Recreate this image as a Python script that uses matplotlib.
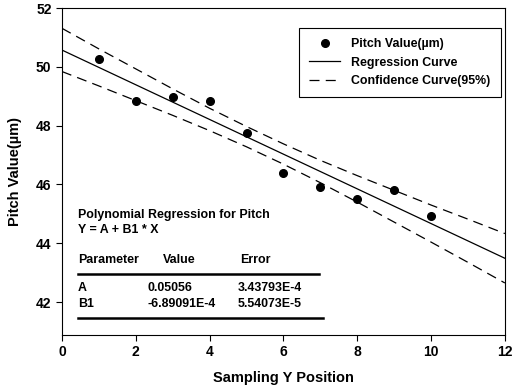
import matplotlib
matplotlib.use("Agg")
import matplotlib.pyplot as plt
from matplotlib.lines import Line2D

plt.rcParams['font.family'] = ['Liberation Sans', 'DejaVu Sans']

# Data
pos_x = [1, 2, 3, 4, 5, 6, 7, 8, 9, 10]
pitch_y = [50.25, 48.85, 48.97, 48.83, 47.76, 46.39, 45.92, 45.51, 45.81, 44.93]

curve_x = [0, 1, 2, 3, 4, 5, 6, 7, 8, 9, 10, 11, 12]
reg_y = [50.57, 49.98, 49.39, 48.80, 48.21, 47.62, 47.03, 46.44, 45.85, 45.26, 44.67, 44.08, 43.49]
upper_y = [51.31, 50.61, 49.93, 49.25, 48.59, 47.97, 47.38, 46.82, 46.30, 45.80, 45.30, 44.82, 44.33]
lower_y = [49.84, 49.35, 48.85, 48.35, 47.83, 47.28, 46.69, 46.06, 45.40, 44.72, 44.04, 43.35, 42.65]

x_ticks = [0, 2, 4, 6, 8, 10, 12]
y_ticks = [42, 44, 46, 48, 50, 52]

table_header = ["Parameter", "Value", "Error"]
param_names = ["A", "B1"]
param_values = ["0.05056", "-6.89091E-4"]
param_errors = ["3.43793E-4", "5.54073E-5"]

fig = plt.figure(figsize=(5.32, 3.91), dpi=100)
ax = fig.add_axes([0.1165, 0.1432, 0.8325, 0.8363])

dash = (0, (8, 5))
ax.plot(curve_x, upper_y, color='black', lw=0.9, linestyle=dash)
ax.plot(curve_x, lower_y, color='black', lw=0.9, linestyle=dash)
ax.plot(curve_x, reg_y, color='black', lw=0.9)
ax.plot(pos_x, pitch_y, 'o', color='black', ms=5.5)

ax.set_xlim(0, 12)
ax.set_ylim(40.88, 52)
ax.set_xticks(x_ticks)
ax.set_yticks(y_ticks)
ax.tick_params(direction='out', length=4, width=0.8, labelsize=10)
for lab in ax.get_xticklabels() + ax.get_yticklabels():
    lab.set_fontweight('bold')
for s in ax.spines.values():
    s.set_linewidth(0.8)

ax.set_xlabel("Sampling Y Position", fontsize=10.5, fontweight='bold', labelpad=8)
ax.set_ylabel("Pitch Value(\u00b5m)", fontsize=10.5, fontweight='bold', labelpad=10)

handles = [
    Line2D([], [], marker='o', color='black', linestyle='none', ms=5.5),
    Line2D([], [], color='black', lw=0.9),
    Line2D([], [], color='black', lw=0.9, linestyle=dash),
]
labels = ["Pitch Value(\u00b5m)", "Regression Curve", "Confidence Curve(95%)"]
leg = ax.legend(handles, labels, loc='upper right', bbox_to_anchor=(0.991, 0.939),
                fancybox=False, edgecolor='black', framealpha=1,
                prop={'weight': 'bold', 'size': 8.9}, handlelength=2.5,
                handletextpad=0.9, labelspacing=0.5, borderpad=0.85, borderaxespad=0)
leg.get_frame().set_linewidth(0.8)

fs = 8.9
ax.text(0.036, 0.367, "Polynomial Regression for Pitch", transform=ax.transAxes,
        fontsize=fs, fontweight='bold', va='center')
ax.text(0.036, 0.321, "Y = A + B1 * X", transform=ax.transAxes,
        fontsize=fs, fontweight='bold', va='center')
ax.text(0.036, 0.229, table_header[0], transform=ax.transAxes,
        fontsize=fs, fontweight='bold', va='center')
ax.text(0.264, 0.229, table_header[1], transform=ax.transAxes,
        fontsize=fs, fontweight='bold', va='center', ha='center')
ax.text(0.436, 0.229, table_header[2], transform=ax.transAxes,
        fontsize=fs, fontweight='bold', va='center', ha='center')
ax.plot([0.036, 0.580], [0.187, 0.187], transform=ax.transAxes, color='black', lw=1.8)
rows_y = [0.144, 0.095]
for name, val, err, yy in zip(param_names, param_values, param_errors, rows_y):
    ax.text(0.036, yy, name, transform=ax.transAxes, fontsize=fs, fontweight='bold', va='center')
    ax.text(0.192, yy, val, transform=ax.transAxes, fontsize=fs, fontweight='bold', va='center')
    ax.text(0.542, yy, err, transform=ax.transAxes, fontsize=fs, fontweight='bold', va='center', ha='right')
ax.plot([0.036, 0.589], [0.052, 0.052], transform=ax.transAxes, color='black', lw=1.8)

fig.savefig("out.png", dpi=100)
